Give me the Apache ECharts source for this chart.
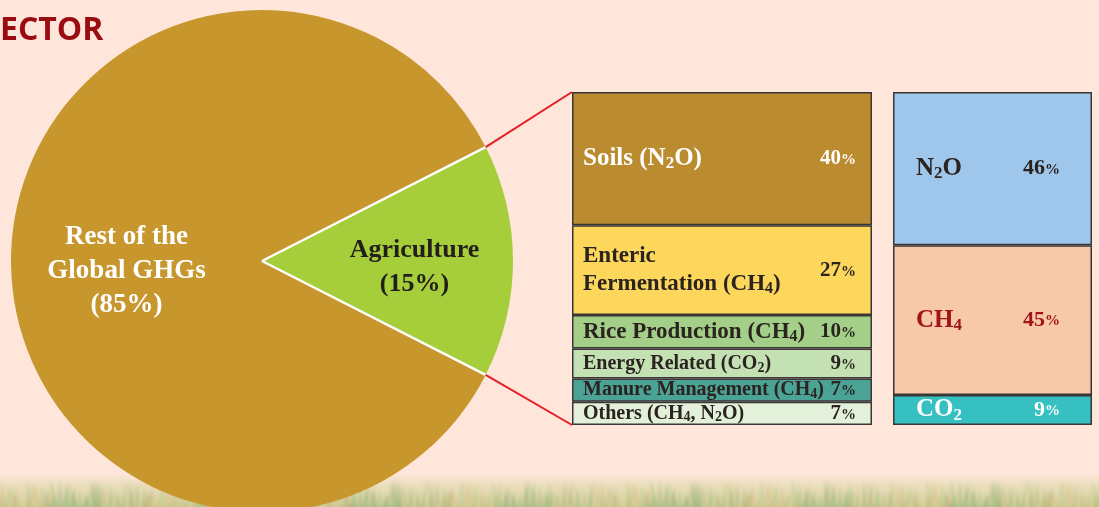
<!DOCTYPE html>
<html>
<head>
<meta charset="utf-8">
<script src="https://cdn.jsdelivr.net/npm/echarts@6/dist/echarts.min.js"></script>
<style>
html,body{margin:0;padding:0;background:#fee6da;}
#c{width:1099px;height:507px;}
</style>
</head>
<body>
<div id="c"></div>
<script>
// ---- data ----
const pieNames = ['Rest of the\nGlobal GHGs', 'Agriculture'];
const pieValues = [85, 15];
const agriNames = ['Soils (N₂O)', 'Enteric\nFermentation (CH₄)', 'Rice Production (CH₄)', 'Energy Related (CO₂)', 'Manure Management (CH₄)', 'Others (CH₄, N₂O)'];
const agriValues = [40, 27, 10, 9, 7, 7];
const gasNames = ['N₂O', 'CH₄', 'CO₂'];
const gasValues = [46, 45, 9];

// ---- styles ----
const SERIF = "'Liberation Serif','DejaVu Serif',serif";
const pieColors = ['#c7962d', '#a6cd3a'];
const pieLabelColors = ['#ffffff', '#221e1b'];
const agriColors = ['#bb8b2f', '#fdd75c', '#a3cf88', '#c4e1b4', '#4aa394', '#e3f0da'];
const agriLabelColors = ['#ffffff', '#2a2320', '#2a2320', '#2a2320', '#2a2320', '#2a2320'];
const agriFontSizes = [25, 23, 23, 20, 20, 20];
const gasColors = ['#9fc7eb', '#f7c9a9', '#36c0c2'];
const gasLabelColors = ['#2a2320', '#a0141a', '#ffffff'];

const PIE_C = [262, 261], PIE_R = 251;
const G1 = {left: 572, top: 92, width: 300, height: 333};
const G2 = {left: 893, top: 92, width: 199, height: 333};
const STRIP_TOP = 475, PAGE_H = 507, PAGE_W = 1099;

const chart = echarts.init(document.getElementById('c'));

const halfAngle = pieValues[1] / 100 * Math.PI;
const edgeTop = [PIE_C[0] + PIE_R * Math.cos(halfAngle), PIE_C[1] - PIE_R * Math.sin(halfAngle)];
const edgeBot = [PIE_C[0] + PIE_R * Math.cos(halfAngle), PIE_C[1] + PIE_R * Math.sin(halfAngle)];

// convert "N₂O" into rich tokens with a real smaller subscript
const SUBS = {'₂': '2', '₄': '4'};
function richName(text) {
  return text.split('\n').map(line => {
    let out = '', buf = '';
    for (const ch of line) {
      if (SUBS[ch]) {
        if (buf) { out += '{m|' + buf + '}'; buf = ''; }
        out += '{s|' + SUBS[ch] + '}';
      } else buf += ch;
    }
    if (buf) out += '{m|' + buf + '}';
    return out;
  }).join('\n');
}
function nameRich(color, size) {
  return {
    m: {color: color, fontFamily: SERIF, fontWeight: 'bold', fontSize: size, lineHeight: 28},
    s: {color: color, fontFamily: SERIF, fontWeight: 'bold', fontSize: Math.round(size * 0.68), lineHeight: 16, padding: [Math.round(size * 0.45), 0, 0, 0]}
  };
}

const series = [];
series.push({
  type: 'pie',
  center: PIE_C,
  radius: PIE_R,
  startAngle: -pieValues[1] / 100 * 180,
  clockwise: true,
  silent: true,
  z: 1,
  label: {show: true, position: 'inside'},
  labelLine: {show: false},
  labelLayout: function (p) {
    return p.dataIndex === 1 ? {dx: 24, dy: 6} : {dx: -7, dy: 10};
  },
  data: pieNames.map((n, i) => ({
    name: n, value: pieValues[i],
    itemStyle: {color: pieColors[i], borderWidth: 0},
    label: {
      formatter: '{b}\n({c}%)',
      color: pieLabelColors[i], fontFamily: SERIF, fontWeight: 'bold', fontSize: i === 0 ? 27 : 26, lineHeight: 34
    }
  }))
});

function addStack(names, values, colors, labelColors, fontSizes, pctSize, gi, nameDist, pctDist) {
  names.forEach((n, i) => {
    series.push({
      type: 'bar', xAxisIndex: gi, yAxisIndex: gi, stack: 'n' + gi,
      barWidth: '100%', barGap: '-100%', silent: true, z: 3,
      name: n,
      itemStyle: {color: colors[i], borderColor: '#3a3636', borderWidth: 1.5},
      label: {
        show: true, position: 'insideLeft', distance: nameDist,
        formatter: richName(n),
        rich: nameRich(labelColors[i], fontSizes[i])
      },
      data: [values[i]]
    });
  });
  names.forEach((n, i) => {
    series.push({
      type: 'bar', xAxisIndex: gi, yAxisIndex: gi, stack: 'p' + gi,
      barWidth: '100%', barGap: '-100%', silent: true, z: 4,
      itemStyle: {color: 'rgba(0,0,0,0)', borderWidth: 0},
      label: {
        show: true, position: 'insideRight', distance: pctDist,
        formatter: '{d|' + values[i] + '}{s|%}',
        rich: {
          d: {color: labelColors[i], fontFamily: SERIF, fontWeight: 'bold', fontSize: pctSize},
          s: {color: labelColors[i], fontFamily: SERIF, fontWeight: 'bold', fontSize: 15, padding: [3, 0, 0, 0]}
        }
      },
      data: [values[i]]
    });
  });
}
addStack(agriNames, agriValues, agriColors, agriLabelColors, agriFontSizes, 21, 0, 11, 16);
addStack(gasNames, gasValues, gasColors, gasLabelColors, [25, 25, 25], 22, 1, 23, 32);

// decorative, softly blurred rice-field strip at the bottom (pattern tile spans full page height so it aligns)
function fieldPattern() {
  const W = 300, H = PAGE_H, T = STRIP_TOP, SH = PAGE_H - STRIP_TOP;
  const cv = document.createElement('canvas');
  cv.width = W; cv.height = H;
  const ctx = cv.getContext('2d');
  const g = ctx.createLinearGradient(0, T, 0, H);
  g.addColorStop(0, '#f4e3c9');
  g.addColorStop(0.45, '#e7dcb7');
  g.addColorStop(1, '#d3d4a3');
  ctx.fillStyle = g;
  ctx.fillRect(0, T, W, SH);
  ctx.save();
  ctx.beginPath();
  ctx.rect(0, T, W, SH);
  ctx.clip();
  ctx.filter = 'blur(1.5px)';
  const cols = ['rgba(150,185,115,0.35)', 'rgba(205,175,115,0.35)', 'rgba(135,170,105,0.30)',
                'rgba(225,205,150,0.45)', 'rgba(125,140,95,0.25)', 'rgba(175,195,130,0.35)'];
  for (let i = 0; i < 110; i++) {
    const x = (i * 37 + (i % 4) * 13) % W;
    const w = 1.5 + (i * 7) % 4;
    const top = T + 2 + (i * 11) % 18;
    ctx.fillStyle = cols[i % cols.length];
    ctx.beginPath();
    ctx.moveTo(x - w, H + 2);
    ctx.lineTo(x + w, H + 2);
    ctx.lineTo(x + ((i % 5) - 2) * 3, top);
    ctx.closePath();
    ctx.fill();
  }
  ctx.restore();
  return cv;
}

const option = {
  backgroundColor: '#fee6da',
  animation: false,
  grid: [
    Object.assign({containLabel: false}, G1),
    Object.assign({containLabel: false}, G2)
  ],
  xAxis: [
    {type: 'category', gridIndex: 0, data: ['agri'], show: false},
    {type: 'category', gridIndex: 1, data: ['gas'], show: false}
  ],
  yAxis: [
    {type: 'value', gridIndex: 0, min: 0, max: 100, inverse: true, show: false},
    {type: 'value', gridIndex: 1, min: 0, max: 100, inverse: true, show: false}
  ],
  graphic: [
    {
      type: 'rect', z: -10, silent: true,
      shape: {x: 0, y: STRIP_TOP, width: PAGE_W, height: PAGE_H - STRIP_TOP},
      style: {fill: {image: fieldPattern(), repeat: 'repeat'}}
    },
    {
      type: 'rect', z: -9, silent: true,
      shape: {x: 0, y: STRIP_TOP, width: PAGE_W, height: 10},
      style: {
        fill: new echarts.graphic.LinearGradient(0, 0, 0, 1, [
          {offset: 0, color: 'rgba(254,230,218,0.55)'}, {offset: 1, color: 'rgba(254,230,218,0)'}
        ])
      }
    },
    {
      type: 'text', left: 0, top: 15, silent: true,
      style: {text: 'ECTOR', fill: '#9a0b12', font: "bold 32px 'Open Sans', sans-serif"}
    },
    {
      type: 'line', z: 5, silent: true,
      shape: {x1: PIE_C[0], y1: PIE_C[1], x2: edgeTop[0], y2: edgeTop[1]},
      style: {stroke: '#ffffff', lineWidth: 2.5}
    },
    {
      type: 'line', z: 5, silent: true,
      shape: {x1: PIE_C[0], y1: PIE_C[1], x2: edgeBot[0], y2: edgeBot[1]},
      style: {stroke: '#ffffff', lineWidth: 2.5}
    },
    {
      type: 'line', z: 5, silent: true,
      shape: {x1: edgeTop[0], y1: edgeTop[1], x2: G1.left, y2: G1.top},
      style: {stroke: '#e61e28', lineWidth: 2}
    },
    {
      type: 'line', z: 5, silent: true,
      shape: {x1: edgeBot[0], y1: edgeBot[1], x2: G1.left, y2: G1.top + G1.height},
      style: {stroke: '#e61e28', lineWidth: 2}
    }
  ],
  series: series
};
chart.setOption(option);
</script>
</body>
</html>
